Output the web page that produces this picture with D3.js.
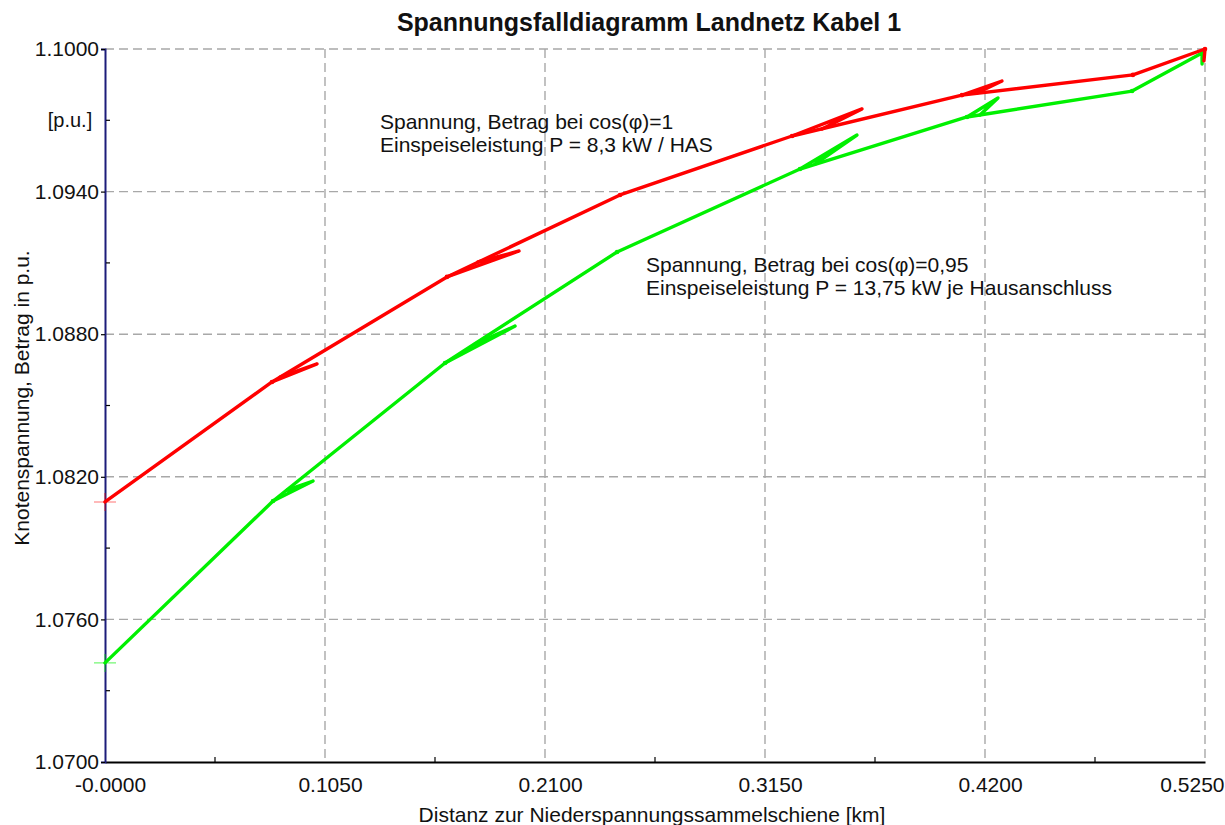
<!DOCTYPE html>
<html>
<head>
<meta charset="utf-8">
<script src="https://cdn.jsdelivr.net/npm/d3@7"></script>
<style>
  body { margin: 0; background: #fff; }
  svg { display: block; font-family: "Liberation Sans", Arial, sans-serif; }
</style>
</head>
<body>
<svg id="chart" width="1225" height="825"></svg>
<script>
// Axis ticks
const xTicks = [0, 0.105, 0.21, 0.315, 0.42, 0.525];
const xTickLabels = ["-0.0000", "0.1050", "0.2100", "0.3150", "0.4200", "0.5250"];
const xMinorTicks = [0.0525, 0.1575, 0.2625, 0.3675, 0.4725];
const yTicks = [1.07, 1.076, 1.082, 1.088, 1.094, 1.1];
const yTickLabels = ["1.0700", "1.0760", "1.0820", "1.0880", "1.0940", "1.1000"];
const yMinorTicks = [1.073, 1.079, 1.085, 1.091, 1.097];
const yUnitTick = 1.097;
const yUnitLabel = "[p.u.]";

// cos(φ)=1, 8,3 kW per house connection: main feeder (distance km, voltage p.u.)
const redMainDist = [0, 0.0797, 0.1632, 0.2458, 0.3279, 0.4090, 0.4906, 0.5250, 0.5245];
const redMainVolt = [1.08094, 1.08599, 1.09041, 1.09386, 1.09634, 1.09806, 1.09891, 1.1000, 1.09950];
// cos(φ)=1: branch lines leaving the main feeder
const redBranchDist = [
  [0.0797, 0.1012, 0.0835],
  [0.1632, 0.1976, 0.1780],
  [0.3279, 0.3613, 0.3422],
  [0.4090, 0.4281, 0.4162]
];
const redBranchVolt = [
  [1.08599, 1.08675, 1.08620],
  [1.09041, 1.09150, 1.09104],
  [1.09634, 1.09748, 1.09663],
  [1.09806, 1.09865, 1.09815]
];

// cos(φ)=0,95, 13,75 kW per house connection: main feeder
const greenMainDist = [0, 0.0802, 0.1623, 0.2444, 0.3317, 0.4114, 0.4902, 0.5236, 0.5236];
const greenMainVolt = [1.07417, 1.08098, 1.08679, 1.09146, 1.09495, 1.09714, 1.09823, 1.09983, 1.09937];
// cos(φ)=0,95: branch lines
const greenBranchDist = [
  [0.0802, 0.0993, 0.0869],
  [0.1623, 0.1957, 0.1766],
  [0.3317, 0.3589, 0.3389],
  [0.4114, 0.4262, 0.4176]
];
const greenBranchVolt = [
  [1.08098, 1.08182, 1.08144],
  [1.08679, 1.08834, 1.08759],
  [1.09495, 1.09638, 1.09516],
  [1.09714, 1.09794, 1.09722]
];

const redColor = "#ff0000";
const greenColor = "#00f000";

const svg = d3.select("#chart");
const W = 1225, H = 825;
const margin = { left: 105, right: 20, top: 49, bottom: 63 };

const x = d3.scaleLinear().domain([0, 0.525]).range([margin.left, W - margin.right]);
const y = d3.scaleLinear().domain([1.07, 1.1]).range([H - margin.bottom, margin.top]);

// Dashed grid
const grid = svg.append("g").attr("stroke", "#a8a8a8").attr("stroke-width", 1.4)
  .attr("stroke-dasharray", "9,5").attr("fill", "none");
grid.selectAll("line.gx").data(xTicks.slice(1)).join("line")
  .attr("x1", d => x(d)).attr("x2", d => x(d))
  .attr("y1", y(1.1)).attr("y2", y(1.07));
grid.selectAll("line.gy").data(yTicks.slice(1)).join("line")
  .attr("x1", x(0)).attr("x2", x(0.525))
  .attr("y1", d => y(d)).attr("y2", d => y(d));

// Axes
const xAxis = d3.axisBottom(x).tickValues(xTicks).tickSize(0)
  .tickFormat((d, i) => xTickLabels[i]).tickPadding(15);
const gx = svg.append("g").attr("transform", `translate(0,${y(1.07)})`).call(xAxis);
gx.select(".domain").attr("stroke", "#000").attr("stroke-width", 2);
gx.selectAll(".tick text").attr("font-size", 21).attr("fill", "#111")
  .attr("font-family", "Liberation Sans, Arial, sans-serif")
  .attr("dx", 5);
// last label sits at the right edge of the figure
gx.selectAll(".tick text").filter((d, i) => i === xTicks.length - 1)
  .attr("text-anchor", "end").attr("dx", 0)
  .attr("x", W - 1 - x(xTicks[xTicks.length - 1]));
gx.selectAll("line.minor").data(xMinorTicks).join("line").attr("class", "minor")
  .attr("x1", d => x(d)).attr("x2", d => x(d)).attr("y1", 0).attr("y2", -5)
  .attr("stroke", "#000").attr("stroke-width", 1.2);

const yAxis = d3.axisLeft(y).tickValues(yTicks).tickSize(4)
  .tickFormat((d, i) => yTickLabels[i]).tickPadding(2);
const gy = svg.append("g").attr("transform", `translate(${x(0)},0)`).call(yAxis);
gy.select(".domain").attr("stroke", "#1c1c7a").attr("stroke-width", 2);
gy.selectAll(".tick line").attr("stroke", "#000").attr("stroke-width", 1.2);
gy.selectAll(".tick text").attr("font-size", 21).attr("fill", "#111")
  .attr("font-family", "Liberation Sans, Arial, sans-serif");
gy.selectAll("line.minor").data(yMinorTicks).join("line").attr("class", "minor")
  .attr("x1", 1).attr("x2", 5).attr("y1", d => y(d)).attr("y2", d => y(d))
  .attr("stroke", "#000").attr("stroke-width", 1.2);
svg.append("text").attr("x", 70).attr("y", y(yUnitTick) + 7)
  .attr("text-anchor", "middle").attr("font-size", 20).attr("fill", "#111").text(yUnitLabel);

// Voltage profiles
const line = d3.line().x(d => x(d[0])).y(d => y(d[1]));
const zip = (a, b) => a.map((v, i) => [v, b[i]]);

function drawFeeder(mainDist, mainVolt, brDist, brVolt, color) {
  const g = svg.append("g").attr("fill", "none").attr("stroke", color)
    .attr("stroke-width", 3.4).attr("stroke-linejoin", "round").attr("stroke-linecap", "round");
  g.append("path").attr("d", line(zip(mainDist, mainVolt)));
  brDist.forEach((bd, i) => g.append("path").attr("d", line(zip(bd, brVolt[i]))));
  // start marker cross
  const cx = x(mainDist[0]), cy = y(mainVolt[0]);
  svg.append("path").attr("d", `M${cx - 11},${cy}H${cx + 11}M${cx},${cy - 9}V${cy + 9}`)
    .attr("stroke", color).attr("stroke-opacity", 0.55).attr("stroke-width", 1.2);
  // node markers
  g.selectAll("circle").data(zip(mainDist, mainVolt).slice(1, -1)).join("circle")
    .attr("cx", d => x(d[0])).attr("cy", d => y(d[1])).attr("r", 2.3)
    .attr("fill", color).attr("stroke", "none");
}
drawFeeder(greenMainDist, greenMainVolt, greenBranchDist, greenBranchVolt, greenColor);
drawFeeder(redMainDist, redMainVolt, redBranchDist, redBranchVolt, redColor);

// Annotations
const ann = svg.append("g").attr("font-size", 21).attr("fill", "#111");
ann.append("text").attr("x", 380).attr("y", 129).text("Spannung, Betrag bei cos(φ)=1");
ann.append("text").attr("x", 380).attr("y", 152).text("Einspeiseleistung P = 8,3 kW / HAS");
ann.append("text").attr("x", 646).attr("y", 272).text("Spannung, Betrag bei cos(φ)=0,95");
ann.append("text").attr("x", 646).attr("y", 295).text("Einspeiseleistung P = 13,75 kW je Hausanschluss");

// Titles
svg.append("text").attr("x", 649).attr("y", 31).attr("text-anchor", "middle")
  .attr("font-size", 25).attr("font-weight", "bold").attr("fill", "#111")
  .text("Spannungsfalldiagramm Landnetz Kabel 1");
svg.append("text").attr("x", 652).attr("y", 822).attr("text-anchor", "middle")
  .attr("font-size", 21).attr("fill", "#111")
  .text("Distanz zur Niederspannungssammelschiene [km]");
svg.append("text").attr("transform", "translate(29,398) rotate(-90)").attr("text-anchor", "middle")
  .attr("font-size", 21).attr("fill", "#111")
  .text("Knotenspannung, Betrag in p.u.");
</script>
</body>
</html>
